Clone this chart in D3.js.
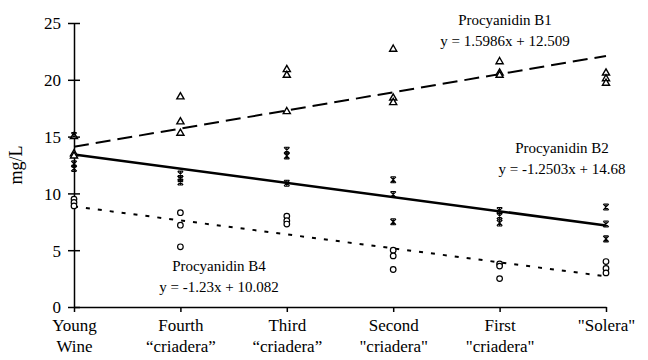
<!DOCTYPE html>
<html>
<head>
<meta charset="utf-8">
<script src="https://cdn.jsdelivr.net/npm/d3@7"></script>
<style>
	body { margin: 0; background: #fff; }
	svg { display: block; font-family: 'Liberation Serif', 'Times New Roman', serif; }
	.axis path, .axis line { stroke: #000; stroke-width: 1.5; }
	.axis text { font-size: 17px; fill: #000; font-family: 'Liberation Serif', 'Times New Roman', serif; }
	.note { font-size: 15px; fill: #000; }
</style>
</head>
<body>
<div class="chart"></div>
<script>
// categories (x = 1..6 in the regressions)
const catX = [1, 2, 3, 4, 5, 6]
const catLines = [
	['Young', 'Wine'],
	['Fourth', '\u201ccriadera\u201d'],
	['Third', '\u201ccriadera\u201d'],
	['Second', '"criadera"'],
	['First', '"criadera"'],
	['"Solera"'],
]
const yTicks = [0, 5, 10, 15, 20, 25]

// replicate values per category (mg/L)
const b1Values = [
	[15.0, 13.5, 13.3],
	[18.5, 16.3, 15.3],
	[20.9, 20.4, 17.2],
	[22.7, 18.4, 18.0],
	[21.6, 20.6, 20.4],
	[20.6, 20.1, 19.7],
]
const b2Values = [
	[15.1, 12.6, 12.2],
	[11.7, 11.3, 11.0],
	[13.8, 13.3, 10.9],
	[11.2, 9.9, 7.5],
	[8.5, 8.0, 7.4],
	[8.8, 7.3, 6.0],
]
const b4Values = [
	[9.5, 9.2, 8.9],
	[8.3, 7.2, 5.3],
	[8.0, 7.6, 7.3],
	[5.0, 4.5, 3.3],
	[3.8, 3.6, 2.5],
	[4.0, 3.4, 3.0],
]

// linear trend lines: [slope, intercept]
const b1Fit = [1.5986, 12.509]
const b2Fit = [-1.2503, 14.68]
const b4Fit = [-1.23, 10.082]

const notes = [
	{ lines: ['Procyanidin B1', 'y = 1.5986x + 12.509'], x: 505, y: 20 },
	{ lines: ['Procyanidin B2', 'y = -1.2503x + 14.68'], x: 562, y: 148 },
	{ lines: ['Procyanidin B4', 'y = -1.23x + 10.082'], x: 219, y: 266 },
]

const width = 648
const height = 360
const margin = { top: 23, right: 42, bottom: 53, left: 74 }

const svg = d3.select('.chart').append('svg')
	.attr('width', width)
	.attr('height', height)

const x = d3.scaleLinear()
	.domain([1, 6])
	.range([margin.left, width - margin.right])

const y = d3.scaleLinear()
	.domain([0, 25])
	.range([height - margin.bottom, margin.top])

// x axis
const xAxis = svg.append('g')
	.attr('class', 'axis axis--x')
	.attr('transform', `translate(0,${y(0)})`)
	.call(d3.axisBottom(x).tickValues(catX).tickSize(5).tickSizeOuter(0).tickFormat(''))

xAxis.selectAll('.tick').each(function(d, i) {
	const t = d3.select(this).append('text')
		.attr('fill', '#000')
		.attr('text-anchor', 'middle')
		.attr('y', 24)
	catLines[i].forEach((line, j) => {
		t.append('tspan')
			.attr('x', 0)
			.attr('dy', j === 0 ? 0 : 21)
			.text(line)
	})
})

// y axis with crossing ticks
const yAxis = svg.append('g')
	.attr('class', 'axis axis--y')
	.attr('transform', `translate(${x(1)},0)`)
	.call(d3.axisLeft(y).tickValues(yTicks).tickSize(6).tickSizeOuter(0))

yAxis.selectAll('.tick line').attr('x1', 6).attr('x2', -6)
yAxis.selectAll('.tick text').attr('x', -13).attr('dy', '0.35em')

svg.append('text')
	.attr('transform', `translate(22,165) rotate(-90)`)
	.attr('text-anchor', 'middle')
	.style('font-size', '18px')
	.text('mg/L')

// trend lines
const trend = [
	{ fit: b1Fit, dash: '15,7', w: 2 },
	{ fit: b2Fit, dash: null, w: 2.5 },
	{ fit: b4Fit, dash: '4,8', w: 2 },
]

trend.forEach(t => {
	svg.append('line')
		.attr('x1', x(1))
		.attr('x2', x(6))
		.attr('y1', y(t.fit[0] * 1 + t.fit[1]))
		.attr('y2', y(t.fit[0] * 6 + t.fit[1]))
		.attr('stroke', '#000')
		.attr('stroke-width', t.w)
		.attr('stroke-dasharray', t.dash)
})

// markers
function flat(values) {
	const out = []
	values.forEach((vals, i) => vals.forEach(v => out.push({ x: catX[i], v })))
	return out
}

const tri = d3.symbol().type(d3.symbolTriangle).size(22)()
const star = 'M-2.8,-2.8L2.8,2.8M2.8,-2.8L-2.8,2.8M0,-3L0,3M-2.5,-3L2.5,-3M-2.5,3L2.5,3'

svg.append('g').selectAll('path')
	.data(flat(b1Values))
	.enter().append('path')
		.attr('d', tri)
		.attr('transform', d => `translate(${x(d.x)},${y(d.v)})`)
		.attr('fill', '#fff')
		.attr('stroke', '#000')
		.attr('stroke-width', 1.4)

svg.append('g').selectAll('path')
	.data(flat(b2Values))
	.enter().append('path')
		.attr('d', star)
		.attr('transform', d => `translate(${x(d.x)},${y(d.v)})`)
		.attr('fill', 'none')
		.attr('stroke', '#000')
		.attr('stroke-width', 1.1)

svg.append('g').selectAll('circle')
	.data(flat(b4Values))
	.enter().append('circle')
		.attr('cx', d => x(d.x))
		.attr('cy', d => y(d.v))
		.attr('r', 2.8)
		.attr('fill', '#fff')
		.attr('stroke', '#000')
		.attr('stroke-width', 1.2)

// annotations
notes.forEach(n => {
	const t = svg.append('text')
		.attr('class', 'note')
		.attr('text-anchor', 'middle')
		.attr('x', n.x)
		.attr('y', n.y)
	n.lines.forEach((line, j) => {
		t.append('tspan')
			.attr('x', n.x)
			.attr('dy', j === 0 ? '0.35em' : 21)
			.text(line)
	})
})
</script>
</body>
</html>
